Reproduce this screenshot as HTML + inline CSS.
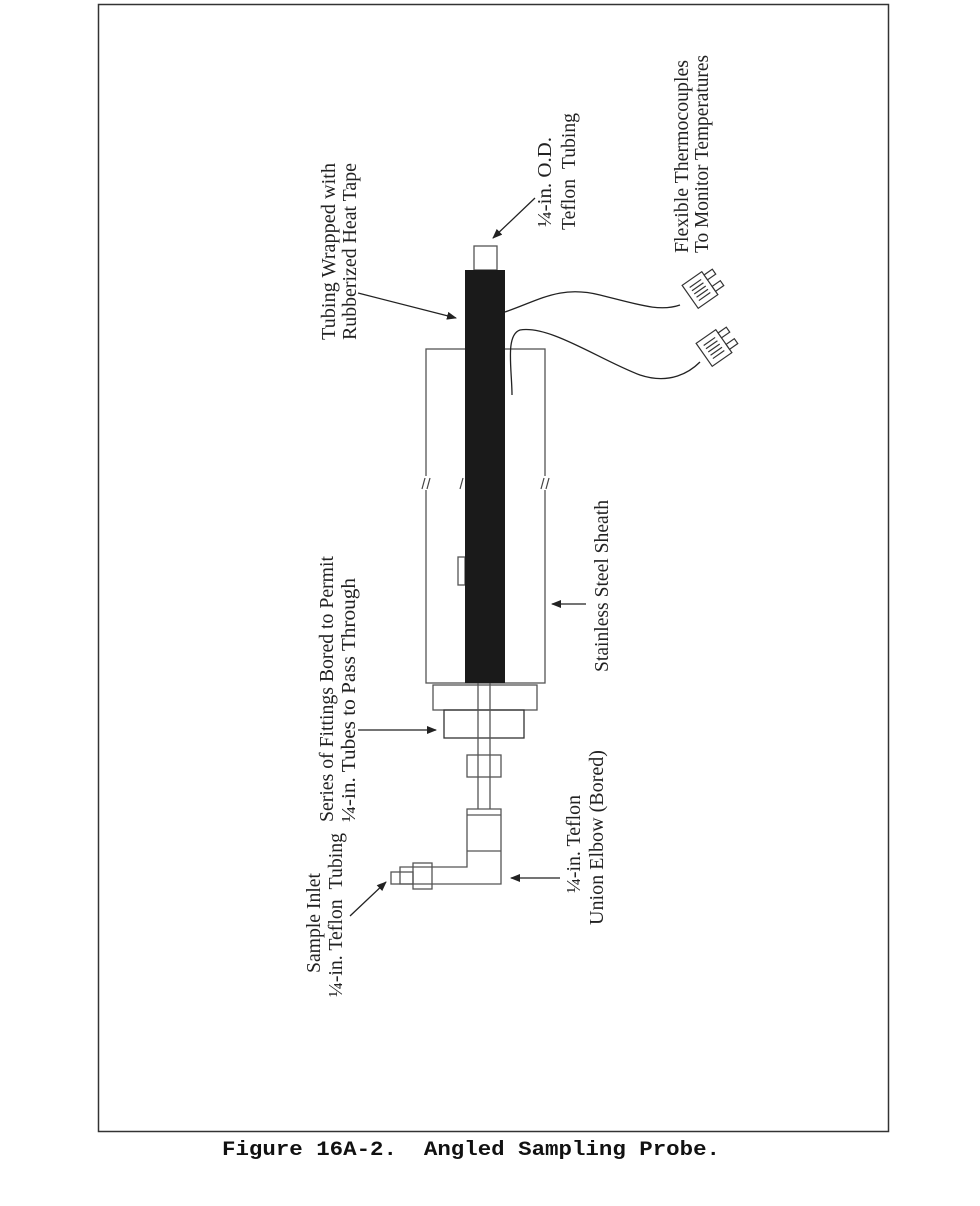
<!DOCTYPE html>
<html><head><style>
html,body{margin:0;padding:0;background:#fff;}
svg{display:block;}
.t{font-family:"Liberation Serif",serif;font-size:19.5px;fill:#222;}
.c{font-family:"Liberation Mono",monospace;font-size:20px;font-weight:bold;fill:#111;}
</style></head><body>
<svg width="980" height="1206" viewBox="0 0 980 1206" xmlns="http://www.w3.org/2000/svg">
<defs>
<marker id="a" markerWidth="10" markerHeight="8" refX="9" refY="4" orient="auto" markerUnits="userSpaceOnUse">
<path d="M0,0 L10,4 L0,8 Z" fill="#222"/></marker>
</defs>
<rect x="98.5" y="4.5" width="790" height="1127" fill="none" stroke="#333" stroke-width="1.5"/>
<g stroke="#555" stroke-width="1.3" fill="none">
<rect x="426" y="349" width="119" height="334" fill="#fff"/>
<rect x="433" y="685" width="104" height="25"/>
<rect x="444" y="710" width="80" height="28" stroke="#333"/>
<line x1="478" y1="683" x2="478" y2="809"/>
<line x1="490" y1="683" x2="490" y2="809"/>
<rect x="467" y="755" width="34" height="22"/>
<path d="M467,809 H501 V884 H400 V867 H467 Z"/>
<line x1="467" y1="851" x2="501" y2="851"/>
<line x1="467" y1="815" x2="501" y2="815"/>
<rect x="413" y="863" width="19" height="26"/>
<rect x="391" y="872" width="22" height="12"/>
<rect x="474" y="246" width="23" height="24"/>
<rect x="458" y="557" width="7" height="28"/>
</g>
<rect x="465" y="270" width="40" height="413" fill="#1a1a1a"/>
<g fill="#fff"><rect x="420" y="476" width="12" height="14"/><rect x="539" y="476" width="12" height="14"/></g>
<g stroke="#444" stroke-width="1.2">
<line x1="422" y1="489" x2="425" y2="478"/><line x1="427" y1="489" x2="430" y2="478"/>
<line x1="541" y1="489" x2="544" y2="478"/><line x1="546" y1="489" x2="549" y2="478"/>
<line x1="460" y1="489" x2="463" y2="478"/>
</g>
<g stroke="#222" stroke-width="1.3" fill="none">
<path d="M505,312 C540,300 560,285 600,295 C640,305 660,312 680,305"/>
<path d="M512,395 C512,370 505,335 520,330 C550,325 600,360 640,375 C670,385 690,372 700,362"/>
</g>
<g stroke="#333" stroke-width="1.2" fill="#fff">
<g transform="translate(700,290) rotate(-35)">
<rect x="-12" y="-14" width="24" height="28"/>
<rect x="12" y="-10" width="10" height="6"/><rect x="12" y="4" width="10" height="6"/>
<line x1="-7" y1="-8" x2="7" y2="-8"/><line x1="-7" y1="-4" x2="7" y2="-4"/><line x1="-7" y1="0" x2="7" y2="0"/><line x1="-7" y1="4" x2="7" y2="4"/><line x1="-7" y1="8" x2="7" y2="8"/>
</g>
<g transform="translate(714,348) rotate(-35)">
<rect x="-12" y="-14" width="24" height="28"/>
<rect x="12" y="-10" width="10" height="6"/><rect x="12" y="4" width="10" height="6"/>
<line x1="-7" y1="-8" x2="7" y2="-8"/><line x1="-7" y1="-4" x2="7" y2="-4"/><line x1="-7" y1="0" x2="7" y2="0"/><line x1="-7" y1="4" x2="7" y2="4"/><line x1="-7" y1="8" x2="7" y2="8"/>
</g>
</g>
<g stroke="#222" stroke-width="1.3" marker-end="url(#a)">
<line x1="358" y1="293" x2="456" y2="318"/>
<line x1="535" y1="198" x2="493" y2="238"/>
<line x1="358" y1="730" x2="436" y2="730"/>
<line x1="350" y1="916" x2="386" y2="882"/>
<line x1="560" y1="878" x2="511" y2="878"/>
<line x1="586" y1="604" x2="552" y2="604"/>
</g>
<text class="t" transform="translate(335,340) rotate(-90)" textLength="177" lengthAdjust="spacingAndGlyphs">Tubing Wrapped with</text>
<text class="t" transform="translate(356,340) rotate(-90)" textLength="177" lengthAdjust="spacingAndGlyphs">Rubberized Heat Tape</text>
<text class="t" transform="translate(551,227) rotate(-90)" textLength="90" lengthAdjust="spacingAndGlyphs">¼-in. O.D.</text>
<text class="t" transform="translate(575,230) rotate(-90)" textLength="117" lengthAdjust="spacingAndGlyphs">Teflon&#160;&#160;Tubing</text>
<text class="t" transform="translate(688,253) rotate(-90)" textLength="193" lengthAdjust="spacingAndGlyphs">Flexible Thermocouples</text>
<text class="t" transform="translate(708,253) rotate(-90)" textLength="198" lengthAdjust="spacingAndGlyphs">To Monitor Temperatures</text>
<text class="t" transform="translate(333,822) rotate(-90)" textLength="266" lengthAdjust="spacingAndGlyphs">Series of Fittings Bored to Permit</text>
<text class="t" transform="translate(355,822) rotate(-90)" textLength="244" lengthAdjust="spacingAndGlyphs">¼-in. Tubes to Pass Through</text>
<text class="t" transform="translate(320,973) rotate(-90)" textLength="100" lengthAdjust="spacingAndGlyphs">Sample Inlet</text>
<text class="t" transform="translate(342,997) rotate(-90)" textLength="164" lengthAdjust="spacingAndGlyphs">¼-in. Teflon&#160;&#160;Tubing</text>
<text class="t" transform="translate(580,893) rotate(-90)" textLength="98" lengthAdjust="spacingAndGlyphs">¼-in. Teflon</text>
<text class="t" transform="translate(603,925) rotate(-90)" textLength="175" lengthAdjust="spacingAndGlyphs">Union Elbow (Bored)</text>
<text class="t" transform="translate(608,672) rotate(-90)" textLength="172" lengthAdjust="spacingAndGlyphs">Stainless Steel Sheath</text>
<text class="c" x="222" y="1155" textLength="498" lengthAdjust="spacingAndGlyphs">Figure 16A-2.&#160;&#160;Angled Sampling Probe.</text>
</svg>
</body></html>
